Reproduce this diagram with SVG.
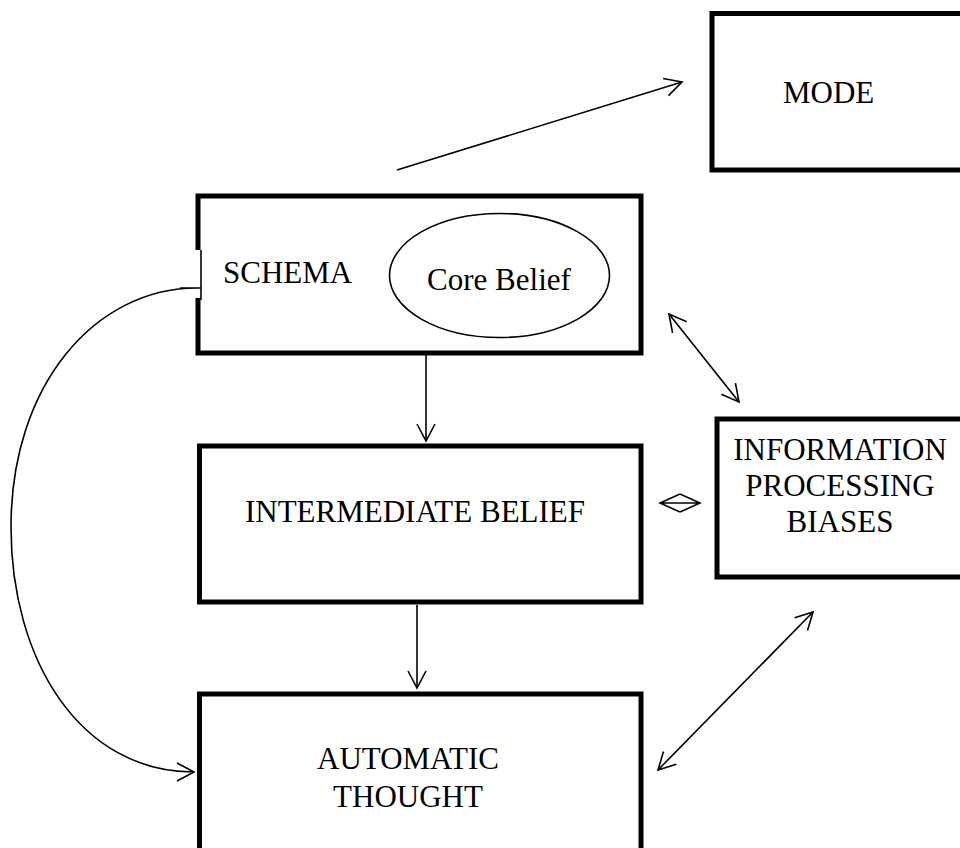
<svg xmlns="http://www.w3.org/2000/svg" width="960" height="848" viewBox="0 0 960 848">
  <style>
    .box { fill: none; stroke: #000; stroke-width: 5; }
    .thin { fill: none; stroke: #000; stroke-width: 1.6; }
    .lbl { font-family: "Liberation Serif", "Times New Roman", serif; font-size: 31px; fill: #000; }
    .c { text-anchor: middle; }
  </style>
  <defs>
    <marker id="ah" viewBox="-20 -12 24 24" refX="0" refY="0" markerWidth="24" markerHeight="24" markerUnits="userSpaceOnUse" orient="auto-start-reverse">
      <path d="M-17,-9 L0,0 L-17,9" fill="none" stroke="#000" stroke-width="1.6"/>
    </marker>
  </defs>
  <rect width="960" height="848" fill="#fff"/>

  <g id="mode">
    <rect class="box" x="712" y="13.5" width="260" height="156.5"/>
    <text class="lbl" x="783" y="103">MODE</text>
  </g>

  <g id="schema">
    <path class="box" d="M198,250 V196 H641 V353 H198 V298"/>
    <line class="thin" x1="201" y1="250" x2="201" y2="300"/>
    <text class="lbl" x="223" y="283">SCHEMA</text>
    <g id="core-belief">
      <ellipse class="thin" cx="499.5" cy="275.5" rx="110" ry="62"/>
      <text class="lbl c" x="499" y="290">Core Belief</text>
    </g>
  </g>

  <g id="intermediate">
    <rect class="box" x="199.5" y="446" width="441.5" height="156"/>
    <text class="lbl c" x="415" y="522">INTERMEDIATE BELIEF</text>
  </g>

  <g id="info">
    <rect class="box" x="717" y="419" width="260" height="158"/>
    <text class="lbl c" x="840" y="460">INFORMATION</text>
    <text class="lbl c" x="840" y="496">PROCESSING</text>
    <text class="lbl c" x="840" y="532">BIASES</text>
  </g>

  <g id="automatic">
    <rect class="box" x="199.5" y="694" width="441.5" height="200"/>
    <text class="lbl c" x="408" y="769">AUTOMATIC</text>
    <text class="lbl c" x="408" y="807">THOUGHT</text>
  </g>

  <g id="connectors">
    <line class="thin" x1="397" y1="170" x2="682" y2="82" marker-end="url(#ah)"/>
    <line class="thin" x1="426" y1="355" x2="426" y2="441" marker-end="url(#ah)"/>
    <line class="thin" x1="417" y1="605" x2="417" y2="688" marker-end="url(#ah)"/>
    <line class="thin" x1="669" y1="314" x2="739" y2="402" marker-start="url(#ah)" marker-end="url(#ah)"/>
    <line class="thin" x1="813" y1="612" x2="658" y2="770" marker-start="url(#ah)" marker-end="url(#ah)"/>
    <path class="thin" d="M660,503 H700 M680,494 L660,503 L680,512 M680,494 L700,503 L680,512"/>
    <path class="thin" d="M180,288 H201 M197,288 C95,288 11,385 11,527 C11,660 80,772 194,772" marker-end="url(#ah)"/>
  </g>
</svg>
